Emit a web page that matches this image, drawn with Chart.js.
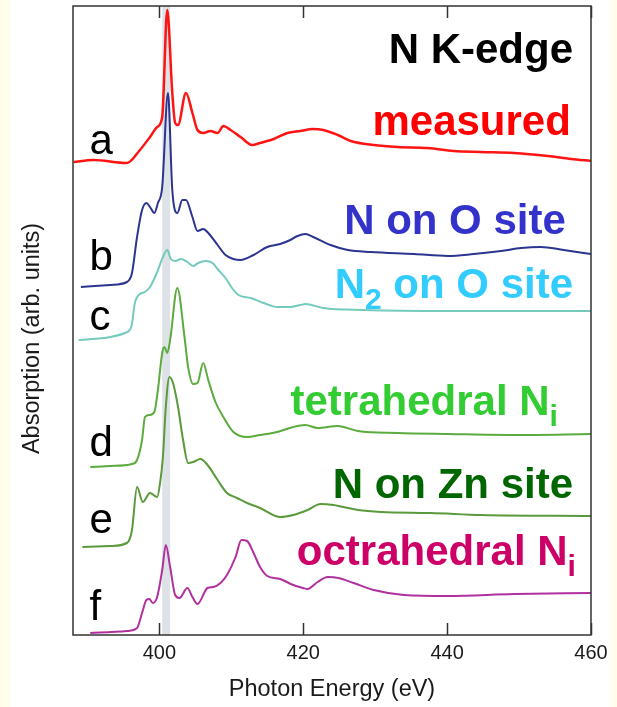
<!DOCTYPE html>
<html>
<head>
<meta charset="utf-8">
<title>N K-edge XANES</title>
<script src="https://cdn.jsdelivr.net/npm/chart.js@4.4.1/dist/chart.umd.min.js"></script>
<style>
  html, body { margin: 0; padding: 0; }
  body {
    width: 617px; height: 707px; overflow: hidden;
    background: linear-gradient(to right, #fffeea 0, #fffeea 10px, #ffffff 10px, #ffffff 611px, #fffeea 611px);
  }
  #wrap { position: relative; width: 617px; height: 707px; }
</style>
</head>
<body>
<div id="wrap"><canvas id="chart" width="617" height="707"></canvas></div>
<script>
// Photon energy axis (eV)
const energyTicks = [400, 420, 440, 460];
const edgeBand = [400.4, 401.5];

// a: measured spectrum (stacked, arbitrary units)
const energyA = [388.1, 390.8, 395.5, 397.3, 398.7, 399.7, 400.4, 401.1, 401.8, 402.2, 402.6, 403.7, 404.6, 405.3, 406.1, 407.1, 408.1, 408.9, 409.9, 411.3, 412.9, 414.0, 415.9, 417.8, 419.6, 421.3, 422.8, 424.8, 426.6, 429.8, 433.1, 437.3, 440.9, 444.7, 449.3, 454.0, 457.2, 460.0];
const signalA = [473, 475, 472, 485, 498, 508, 518, 625, 542, 512, 510, 542, 522, 505, 502, 504, 502, 509, 505, 498, 490, 492, 496, 502, 504, 506, 505, 500, 494, 490, 488, 487, 484, 483, 482, 479, 476, 474];

// b: N on O site
const energyB = [389.1, 393.2, 395.5, 396.2, 396.9, 397.6, 398.2, 398.7, 399.3, 399.8, 400.4, 401.2, 401.8, 402.5, 403.2, 403.7, 404.6, 405.3, 406.1, 406.8, 408.1, 409.2, 410.3, 411.3, 413.1, 415.0, 416.8, 418.2, 419.2, 420.3, 421.4, 423.8, 426.2, 429.4, 435.4, 440.1, 443.7, 447.5, 450.3, 453.0, 456.2, 460.0];
const signalB = [348, 350, 353, 362, 398, 425, 432, 428, 422, 432, 448, 542, 445, 422, 435, 435, 418, 404, 406, 402, 390, 380, 376, 375, 380, 388, 391, 395, 399, 401, 398, 390, 385, 383, 381, 379, 381, 384, 387, 388, 385, 381];

// c: N2 on O site
const energyC = [388.8, 393.2, 395.2, 396.1, 396.6, 397.3, 398.0, 398.7, 399.7, 400.5, 401.1, 401.6, 402.2, 403.0, 403.9, 404.7, 405.4, 406.4, 407.4, 408.2, 409.2, 410.1, 411.0, 412.7, 414.5, 416.4, 418.2, 419.6, 420.3, 422.8, 428.4, 440.1, 460.0];
const signalC = [295, 298, 302, 308, 332, 341, 343, 348, 363, 378, 385, 376, 374, 376, 373, 369, 372, 374, 372, 365, 357, 347, 340, 337, 332, 328, 328, 330, 331, 327, 325, 324, 324];

// d: tetrahedral interstitial N
const energyD = [390.4, 393.2, 396.2, 396.9, 397.6, 398.0, 398.6, 399.3, 399.8, 400.4, 400.7, 401.1, 401.5, 402.5, 403.5, 404.0, 404.7, 405.3, 406.1, 406.8, 407.8, 408.9, 410.3, 412.2, 414.0, 416.4, 418.6, 420.3, 422.0, 424.8, 427.6, 433.1, 440.1, 449.3, 460.0];
const signalD = [168, 169, 171, 175, 195, 218, 220, 223, 245, 282, 288, 282, 295, 347, 298, 268, 251, 252, 272, 255, 233, 218, 203, 198, 200, 203, 208, 210, 207, 209, 204, 202, 201, 200, 201];

// e: N on Zn site
const energyE = [389.3, 393.2, 395.5, 396.2, 396.9, 397.7, 398.7, 399.7, 400.1, 400.5, 400.9, 401.4, 401.9, 402.6, 403.3, 404.0, 404.7, 405.7, 406.7, 408.1, 409.4, 410.8, 412.2, 414.0, 416.8, 418.6, 420.6, 422.4, 424.2, 427.6, 430.8, 437.7, 444.7, 460.0];
const signalE = [88, 89, 92, 105, 148, 133, 142, 138, 152, 178, 228, 258, 252, 228, 195, 172, 173, 176, 170, 155, 142, 137, 132, 127, 118, 120, 125, 131, 130, 125, 123, 122, 120, 119];

// f: octahedral interstitial N
const energyF = [390.4, 395.5, 396.9, 397.6, 398.2, 398.6, 399.1, 399.7, 400.4, 400.9, 401.5, 402.2, 402.8, 403.9, 404.6, 405.3, 406.7, 407.5, 408.5, 409.4, 410.6, 411.4, 412.2, 413.1, 414.0, 415.0, 416.8, 418.6, 420.0, 420.6, 422.0, 423.4, 424.9, 427.0, 429.8, 434.0, 440.1, 449.3, 460.0];
const signalF = [2, 4, 7, 22, 35, 36, 32, 38, 65, 90, 68, 40, 37, 47, 38, 31, 47, 48, 52, 60, 78, 95, 94, 82, 68, 59, 56, 50, 47, 46, 53, 58, 57, 52, 45, 40, 39, 41, 42];

const curveLetters = ['a', 'b', 'c', 'd', 'e', 'f'];
const seriesNames = ['measured', 'N on O site', 'N\u2082 on O site', 'tetrahedral N\u1d62', 'N on Zn site', 'octrahedral N\u1d62'];
const panelTitle = 'N K-edge';

const FONT = '"Liberation Sans", Arial, Helvetica, sans-serif';

const lineColors = ['#ff1414', '#2b3590', '#74cbbd', '#5bab3e', '#5a9a3c', '#b0309f'];
const labelColors = ['#ff0000', '#3333cc', '#33ccff', '#33cc33', '#006600', '#cc0066'];

// Label anchors in data units: [energy of right edge, signal at baseline]
const nameAnchors = [[457.2, 500], [456.5, 401], [457.5, 337], [455.4, 220], [457.5, 137], [457.9, 70]];
const titleAnchor = [457.5, 572];
const letterEnergy = 390.3;
const letterLevels = [481, 365, 305, 179, 102, 15];

function zip(xs, ys) { return xs.map((x, i) => ({ x, y: ys[i] })); }

const energies = [energyA, energyB, energyC, energyD, energyE, energyF];
const signals = [signalA, signalB, signalC, signalD, signalE, signalF];

const datasets = energies.map((xs, i) => ({
  label: curveLetters[i],
  data: zip(xs, signals[i]),
  borderColor: lineColors[i],
  borderWidth: i === 0 ? 2.5 : 2,
  pointRadius: 0,
  cubicInterpolationMode: 'monotone',
  fill: false
}));

// Split "X\u2082" / "X\u1d62" style names into normal and subscript runs
function splitSub(text) {
  const subs = { '\u2082': '2', '\u1d62': 'i' };
  const parts = [];
  for (const ch of text) {
    if (subs[ch]) parts.push({ t: subs[ch], sub: true });
    else if (parts.length && !parts[parts.length - 1].sub) parts[parts.length - 1].t += ch;
    else parts.push({ t: ch, sub: false });
  }
  return parts;
}

function drawRich(ctx, text, xRight, yBase, color) {
  const parts = splitSub(text);
  const mainFont = 'bold 42px ' + FONT;
  const subFont = 'bold 30px ' + FONT;
  let total = 0;
  parts.forEach(p => { ctx.font = p.sub ? subFont : mainFont; p.w = ctx.measureText(p.t).width; total += p.w; });
  let x = xRight - total;
  ctx.fillStyle = color;
  ctx.textAlign = 'left';
  ctx.textBaseline = 'alphabetic';
  parts.forEach(p => {
    ctx.font = p.sub ? subFont : mainFont;
    ctx.fillText(p.t, x, yBase + (p.sub ? 11 : 0));
    x += p.w;
  });
}

const decor = {
  id: 'decor',
  beforeDatasetsDraw(chart) {
    const { ctx, chartArea: a, scales: { x } } = chart;
    const x0 = x.getPixelForValue(edgeBand[0]);
    const x1 = x.getPixelForValue(edgeBand[1]);
    ctx.save();
    ctx.fillStyle = '#dde2e6';
    ctx.fillRect(x0, a.top, x1 - x0, a.bottom - a.top);
    ctx.restore();
  },
  afterDatasetsDraw(chart) {
    const { ctx, chartArea: a, scales: { x, y } } = chart;
    ctx.save();
    // frame
    ctx.strokeStyle = '#333333';
    ctx.lineWidth = 1.5;
    ctx.strokeRect(a.left, a.top, a.right - a.left, a.bottom - a.top);
    // inward ticks on top and bottom edges
    ctx.lineWidth = 1.5;
    energyTicks.forEach(v => {
      const px = Math.round(x.getPixelForValue(v)) + 0.5;
      ctx.beginPath();
      ctx.moveTo(px, a.bottom); ctx.lineTo(px, a.bottom - 12);
      ctx.moveTo(px, a.top); ctx.lineTo(px, a.top + 12);
      ctx.stroke();
    });
    // curve letters
    ctx.fillStyle = '#000000';
    ctx.font = '42px ' + FONT;
    ctx.textAlign = 'left';
    ctx.textBaseline = 'alphabetic';
    curveLetters.forEach((l, i) => {
      ctx.fillText(l, x.getPixelForValue(letterEnergy), y.getPixelForValue(letterLevels[i]));
    });
    // panel title and series names
    drawRich(ctx, panelTitle, x.getPixelForValue(titleAnchor[0]), y.getPixelForValue(titleAnchor[1]), '#000000');
    seriesNames.forEach((n, i) => {
      drawRich(ctx, n, x.getPixelForValue(nameAnchors[i][0]), y.getPixelForValue(nameAnchors[i][1]), labelColors[i]);
    });
    // vertical axis title
    ctx.translate(33, (a.top + a.bottom) / 2 + 18);
    ctx.rotate(-Math.PI / 2);
    ctx.font = '23.5px ' + FONT;
    ctx.fillStyle = '#1a1a1a';
    ctx.textAlign = 'center';
    ctx.textBaseline = 'middle';
    ctx.fillText('Absorption (arb. units)', 0, 0);
    ctx.restore();
  }
};

new Chart(document.getElementById('chart'), {
  type: 'line',
  data: { datasets },
  options: {
    responsive: false,
    animation: false,
    devicePixelRatio: 1,
    layout: { padding: { left: 73, right: 26, top: 6, bottom: 0 } },
    plugins: { legend: { display: false }, tooltip: { enabled: false } },
    scales: {
      x: {
        type: 'linear',
        min: 388,
        max: 460,
        grid: { display: false },
        border: { display: false },
        afterBuildTicks(scale) { scale.ticks = energyTicks.map(v => ({ value: v })); },
        ticks: {
          padding: -2,
          color: '#1a1a1a',
          font: { family: FONT, size: 20 },
          callback: v => String(v)
        },
        title: {
          display: true,
          text: 'Photon Energy (eV)',
          color: '#1a1a1a',
          font: { family: FONT, size: 23.5 },
          padding: { top: 12.9, bottom: 2.9 }
        }
      },
      y: {
        type: 'linear',
        display: false,
        min: 0,
        max: 629
      }
    }
  },
  plugins: [decor]
});
</script>
</body>
</html>
